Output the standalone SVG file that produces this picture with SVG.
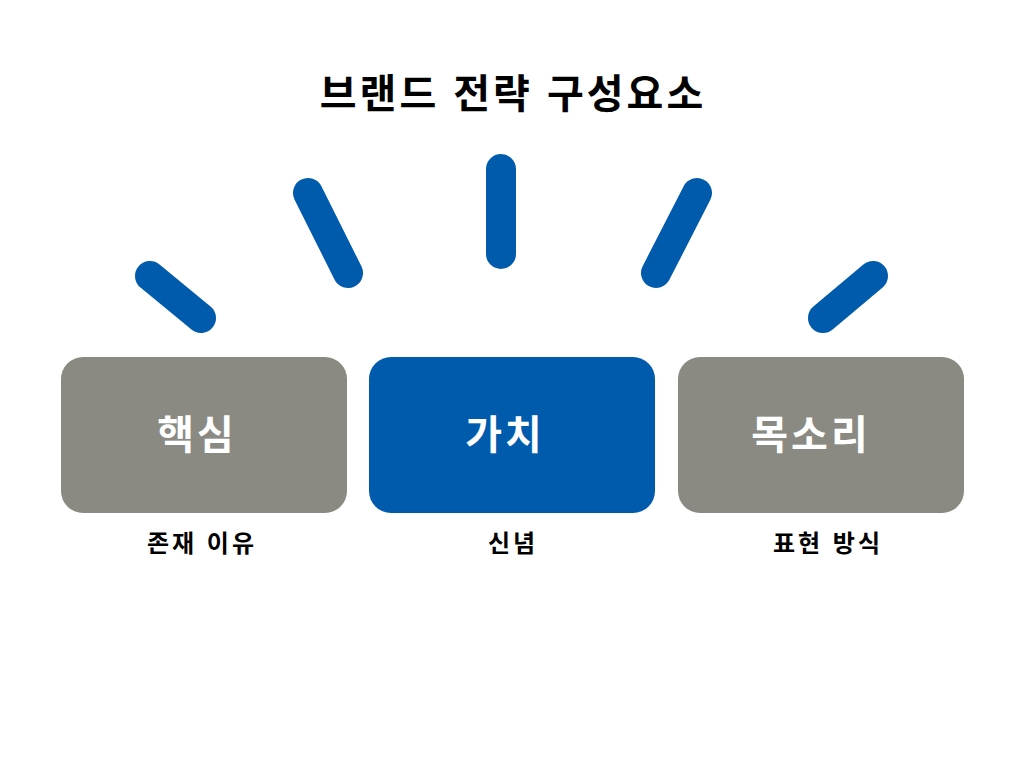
<svg xmlns="http://www.w3.org/2000/svg" width="1024" height="768" viewBox="0 0 1024 768">
<style>
.ray{stroke:#005BAC;stroke-width:30;stroke-linecap:round;fill:none}
.box{stroke:none}
.gray{fill:#8A8A83}
.blue{fill:#005BAC}
.t{font-family:"Liberation Sans","Noto Sans CJK KR",sans-serif;font-weight:bold;text-anchor:middle}
.title{font-size:40px;fill:#000;letter-spacing:3px}
.bt{font-size:40px;fill:#fff;letter-spacing:3px}
.lb{font-size:24px;fill:#000;letter-spacing:3px}
</style>
<rect width="1024" height="768" fill="#fff"/>
<text class="t title" x="513" y="108">브랜드 전략 구성요소</text>
<g id="rays">
<line class="ray" x1="150" y1="276" x2="201" y2="318"/>
<line class="ray" x1="308" y1="193" x2="348" y2="273"/>
<line class="ray" x1="501" y1="169" x2="501" y2="254"/>
<line class="ray" x1="697" y1="193" x2="656" y2="273"/>
<line class="ray" x1="873" y1="276" x2="823" y2="318"/>
</g>
<g id="node-core">
<rect class="box gray" x="61" y="357" width="286" height="156" rx="22"/>
<text class="t bt" x="197" y="449">핵심</text>
<text class="t lb" x="202" y="552">존재 이유</text>
</g>
<g id="node-value">
<rect class="box blue" x="369" y="357" width="286" height="156" rx="22"/>
<text class="t bt" x="505" y="449">가치</text>
<text class="t lb" x="513" y="552">신념</text>
</g>
<g id="node-voice">
<rect class="box gray" x="678" y="357" width="286" height="156" rx="22"/>
<text class="t bt" x="811" y="449">목소리</text>
<text class="t lb" x="828" y="552">표현 방식</text>
</g>
</svg>
